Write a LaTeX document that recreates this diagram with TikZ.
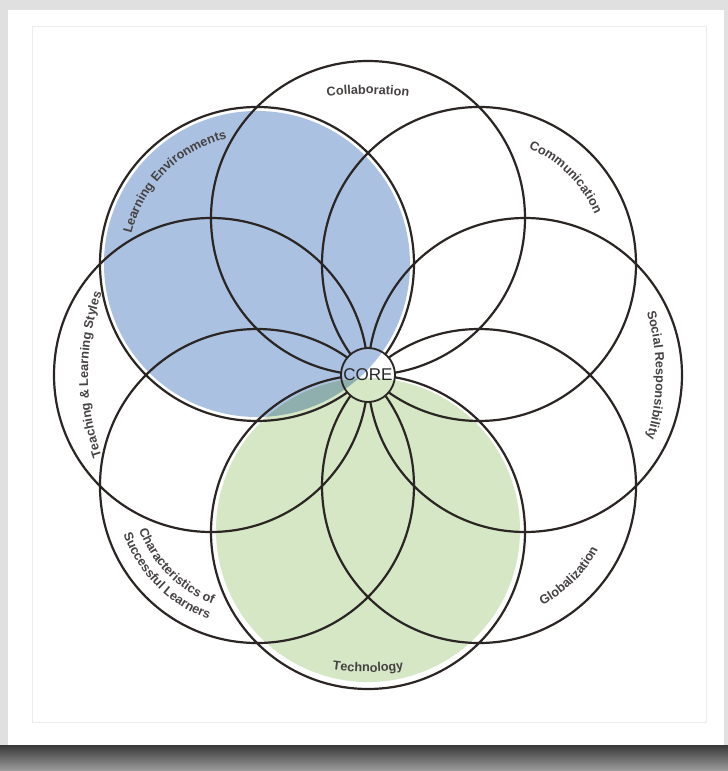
\documentclass[tikz,border=0pt]{standalone}
\usepackage{fontspec}
\setmainfont{Liberation Sans}
\usetikzlibrary{decorations.text}

\definecolor{petalblue}{RGB}{170,193,226}
\definecolor{petalgreen}{RGB}{214,231,198}
\definecolor{petalteal}{RGB}{143,175,175}
\definecolor{ringline}{RGB}{43,37,35}
\definecolor{textgray}{RGB}{70,66,66}
\newcommand{\lblfont}{\fontsize{12.7}{12.7}\selectfont\bfseries\color{textgray}}

\begin{document}
\begin{tikzpicture}[
  x=1pt, y=1pt,
  petal/.style={draw=ringline, line width=2.2pt},
  petaltext/.style={decorate, decoration={text along path, text align=center, text={#1}}},
]

% Page and frame
\useasboundingbox (-368,-396) rectangle (360,375);
\fill[black!12] (-368,-396) rectangle (360,375);
\fill[white] (-360,-370) rectangle (356,365);
\shade[top color=black!78, bottom color=black!38] (-368,-396) rectangle (360,-370);
\draw[black!8, line width=1pt] (-335,-347) rectangle (338,348);

% Circle centres
\foreach \ang/\name in {90/collab, 45/commun, 0/social, -45/global, -90/tech, -135/charac, 180/teach, 135/learnenv}
  \coordinate (\name) at (\ang:157);
\coordinate (techfill) at (-90:155);

% Coloured circles
\fill[petalblue] (learnenv) circle[radius=153];
\fill[petalgreen] (techfill) circle[radius=152];
\begin{scope}
  \clip (learnenv) circle[radius=153];
  \fill[petalteal] (techfill) circle[radius=152];
\end{scope}

% Outlines
\foreach \name in {collab, commun, social, global, tech, charac, teach, learnenv}
  \draw[petal] (\name) circle[radius=157];

% Core
\begin{scope}
  \clip (0,0) circle[radius=27];
  \fill[white] (-30,-30) rectangle (30,30);
  \fill[petalblue] (learnenv) circle[radius=153];
  \fill[petalgreen] (techfill) circle[radius=152];
  \clip (learnenv) circle[radius=153];
  \fill[petalteal] (techfill) circle[radius=152];
\end{scope}
\node[circle, draw=ringline, line width=1.8pt, minimum size=54pt, inner sep=0pt,
  font=\fontsize{17}{17}\selectfont, text=black!85] (core) at (0,0) {CORE};

% Labels, upper half
\path[shift={(collab)}, shift={(90:-176)}, petaltext={|\lblfont|Collaboration}] (110:300) arc[start angle=110, end angle=70, radius=300];
\path[shift={(commun)}, petaltext={|\lblfont|Communication}] (115:126) arc[start angle=115, end angle=-25, radius=126];
\path[shift={(social)}, shift={(0:-89)}, petaltext={|\lblfont|Social Responsibility}] (35:220) arc[start angle=35, end angle=-35, radius=220];
\path[shift={(learnenv)}, petaltext={|\lblfont|Learning Environments}] (205:129) arc[start angle=205, end angle=65, radius=129];
\path[shift={(teach)}, shift={(180:-127)}, petaltext={|\lblfont|Teaching {\&} Learning Styles}] (215:250) arc[start angle=215, end angle=145, radius=250];

% Labels, lower half
\path[shift={(tech)}, shift={(270:-110)}, petaltext={|\lblfont|Technology}] (250:250) arc[start angle=250, end angle=290, radius=250];
\path[shift={(global)}, petaltext={|\lblfont|Globalization}] (245:135) arc[start angle=245, end angle=385, radius=135];
\path[shift={(charac)}, petaltext={|\lblfont|Characteristics of}] (155:126) arc[start angle=155, end angle=295, radius=126];
\path[shift={(charac)}, petaltext={|\lblfont|Successful Learners}] (155:142) arc[start angle=155, end angle=295, radius=142];

\end{tikzpicture}
\end{document}
